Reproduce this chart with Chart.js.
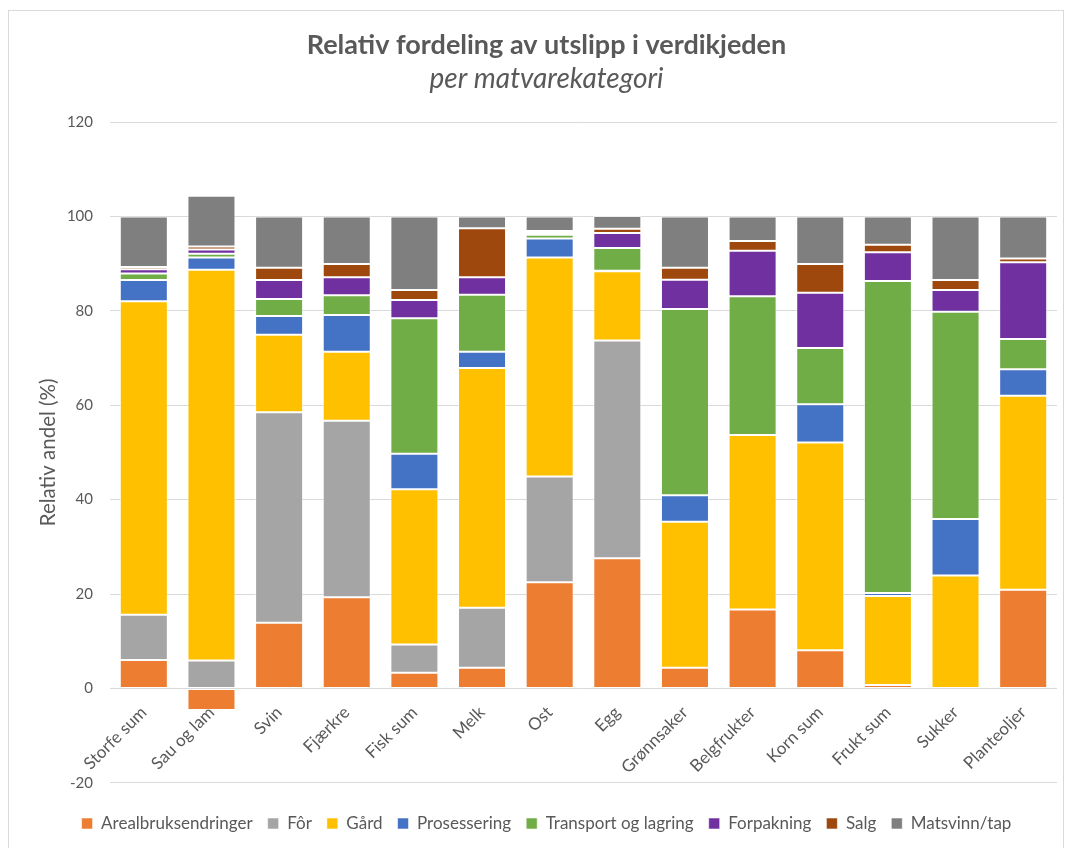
<!DOCTYPE html>
<html>
<head>
<meta charset="utf-8">
<script src="https://cdn.jsdelivr.net/npm/chart.js@4/dist/chart.umd.min.js"></script>
<style>
  html, body { margin: 0; padding: 0; background: #fff; }
  #wrap { position: relative; width: 1068px; height: 848px; }
</style>
</head>
<body>
<div id="wrap"><canvas id="utslippCanvas" width="1068" height="848"></canvas></div>
<script>
// kategorier og andeler (%) per ledd i verdikjeden
var categories = ['Storfe sum', 'Sau og lam', 'Svin', 'Fjærkre', 'Fisk sum', 'Melk', 'Ost', 'Egg',
                  'Grønnsaker', 'Belgfrukter', 'Korn sum', 'Frukt sum', 'Sukker', 'Planteoljer'];

var arealbruk   = [6.0, -4.6, 13.9, 19.3, 3.3, 4.4, 22.5, 27.6, 4.4, 16.7, 8.1, 0.7, 0, 20.9];
var forData     = [9.6, 5.9, 44.6, 37.4, 6.0, 12.7, 22.4, 46.1, 0, 0, 0, 0, 0, 0];
var gard        = [66.4, 82.8, 16.4, 14.6, 32.9, 50.8, 46.4, 14.7, 30.9, 37.0, 44.0, 18.9, 23.9, 41.1];
var prosessering = [4.5, 2.6, 4.0, 7.8, 7.5, 3.4, 4.0, 0.1, 5.6, 0, 8.1, 0.6, 12.0, 5.6];
var transport   = [1.4, 0.8, 3.6, 4.2, 28.7, 12.1, 0.8, 4.8, 39.5, 29.4, 11.9, 66.1, 43.9, 6.4];
var forpakning  = [0.9, 0.9, 4.0, 3.8, 3.9, 3.7, 0.4, 3.2, 6.2, 9.6, 11.7, 6.1, 4.6, 16.3];
var salg        = [0.5, 0.6, 2.6, 2.8, 2.1, 10.4, 0.4, 0.9, 2.5, 2.1, 6.1, 1.6, 2.1, 0.8];
var matsvinn    = [10.7, 10.8, 10.9, 10.1, 15.6, 2.5, 3.1, 2.7, 10.9, 5.2, 10.1, 6.0, 13.5, 8.9];

var yTicks = { min: -20, max: 120, step: 20 };

var textColor = '#595959';
var fontFamily = 'Lato, "Open Sans", sans-serif';

function serie(label, data, color) {
    return {
        label: label,
        data: data,
        backgroundColor: color,
        borderColor: 'rgba(255,255,255,0.55)',
        borderWidth: 1,
        borderSkipped: false,
        categoryPercentage: 1,
        barPercentage: 0.71
    };
}

// ytre ramme rundt hele diagrammet
var framePlugin = {
    id: 'frame',
    beforeDraw: function(chart) {
        var ctx = chart.ctx;
        ctx.save();
        ctx.fillStyle = '#fff';
        ctx.fillRect(0, 0, chart.width, chart.height);
        ctx.strokeStyle = '#d9d9d9';
        ctx.lineWidth = 1;
        ctx.strokeRect(8.5, 10.5, 1055, 900);
        ctx.restore();
    }
};

var canvas = document.getElementById('utslippCanvas');

var myChart = new Chart(canvas, {
    type: 'bar',
    data: {
        labels: categories,
        datasets: [
            serie('Arealbruksendringer', arealbruk, '#ED7D31'),
            serie('Fôr', forData, '#A5A5A5'),
            serie('Gård', gard, '#FFC000'),
            serie('Prosessering', prosessering, '#4472C4'),
            serie('Transport og lagring', transport, '#70AD47'),
            serie('Forpakning', forpakning, '#7030A0'),
            serie('Salg', salg, '#9E480E'),
            serie('Matsvinn/tap', matsvinn, '#7F7F7F')
        ]
    },
    options: {
        responsive: false,
        animation: false,
        layout: {
            padding: { left: 36, right: 11, top: 0, bottom: 6 }
        },
        plugins: {
            title: {
                display: true,
                text: 'Relativ fordeling av utslipp i verdikjeden',
                color: textColor,
                font: { family: fontFamily, size: 27, weight: 'bold' },
                padding: { top: 29, bottom: 0 }
            },
            subtitle: {
                display: true,
                text: 'per matvarekategori',
                color: textColor,
                font: { family: fontFamily, size: 28, style: 'italic' },
                padding: { top: 1, bottom: 26 }
            },
            legend: {
                display: true,
                position: 'bottom',
                labels: {
                    color: textColor,
                    font: { family: fontFamily, size: 17 },
                    boxWidth: 11,
                    boxHeight: 11,
                    padding: 15
                },
                // tom tittel gir litt luft mellom -20-linjen og forklaringen
                title: {
                    display: true,
                    text: ' ',
                    font: { size: 1 },
                    padding: { top: 16, bottom: 0 }
                }
            },
            tooltip: { enabled: false }
        },
        scales: {
            x: {
                stacked: true,
                position: { y: 0 },
                grid: { display: false },
                border: { display: false },
                ticks: {
                    color: textColor,
                    font: { family: fontFamily, size: 17 },
                    maxRotation: 45,
                    minRotation: 45,
                    padding: 6
                },
                afterFit: function(scale) {
                    scale.paddingLeft = 0;
                    scale.paddingRight = 0;
                }
            },
            y: {
                stacked: true,
                min: yTicks.min,
                max: yTicks.max,
                grid: { color: '#d9d9d9', drawTicks: false },
                border: { display: false },
                ticks: {
                    stepSize: yTicks.step,
                    color: textColor,
                    font: { family: fontFamily, size: 15 },
                    padding: 17
                },
                title: {
                    display: true,
                    text: 'Relativ andel (%)',
                    color: textColor,
                    font: { family: fontFamily, size: 20.5 },
                    padding: { top: 0, bottom: 0 }
                },
                afterFit: function(scale) {
                    scale.width = 74;
                }
            }
        }
    },
    plugins: [framePlugin]
});
</script>
</body>
</html>
